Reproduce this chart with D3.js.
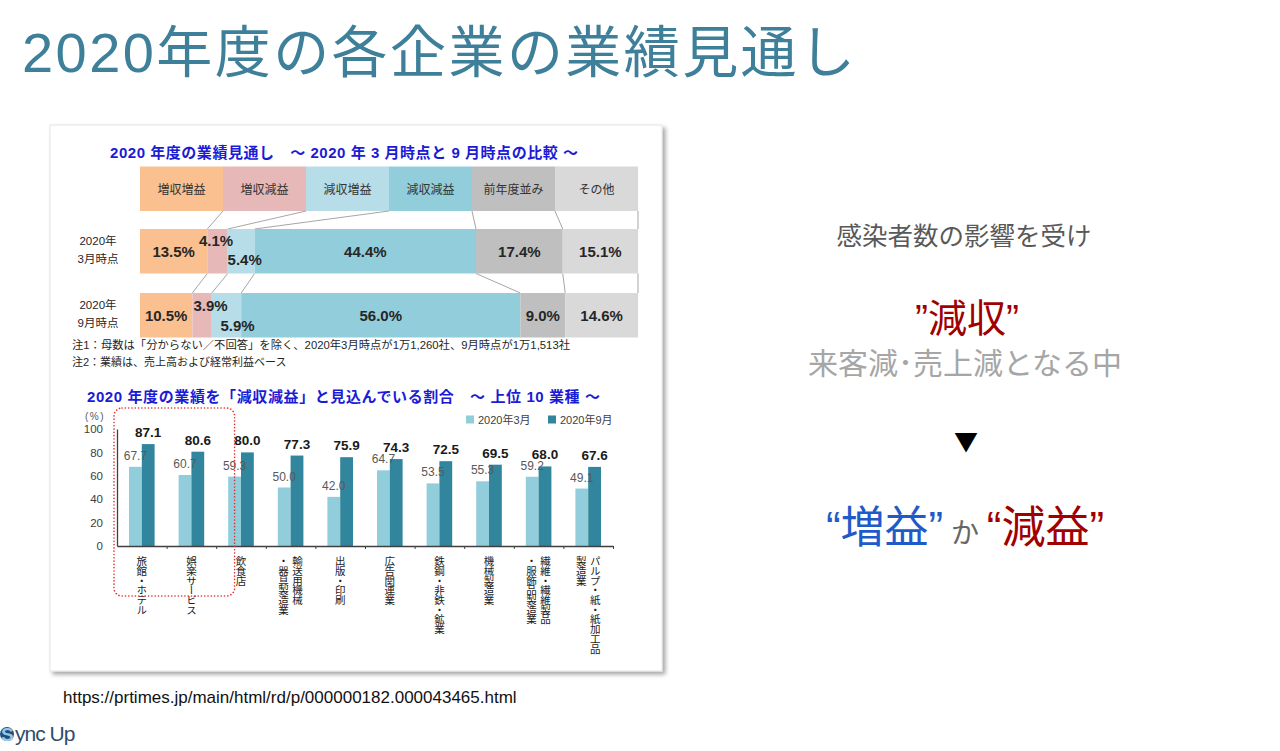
<!DOCTYPE html>
<html>
<head>
<meta charset="utf-8">
<script src="https://cdnjs.cloudflare.com/ajax/libs/d3/7.8.5/d3.min.js"></script>
<style>
  body { margin: 0; background: #fff; }
  svg { display: block; }
</style>
</head>
<body>
<script>
var W = 1280, H = 751;

// --- data: outlook (stacked) ---
var outlookCats = ["増収増益", "増収減益", "減収増益", "減収減益", "前年度並み", "その他"];
var outlookColors = ["#FAC090", "#E6B9B8", "#B7DEE8", "#92CDDC", "#BFBFBF", "#D9D9D9"];
var rowLabels = [["2020年", "3月時点"], ["2020年", "9月時点"]];
var outlookMar = [13.5, 4.1, 5.4, 44.4, 17.4, 15.1];
var outlookSep = [10.5, 3.9, 5.9, 56.0, 9.0, 14.6];

// --- data: top 10 industries ---
var industries = [
  ["旅館・ホテル"], ["娯楽サービス"], ["飲食店"], ["輸送用機械", "・器具製造業"],
  ["出版・印刷"], ["広告関連業"], ["鉄鋼・非鉄・鉱業"], ["機械製造業"],
  ["繊維・繊維製品", "・服飾品製造業"], ["パルプ・紙・紙加工品", "製造業"]
];
var marValues = [67.7, 60.7, 59.3, 50.0, 42.0, 64.7, 53.5, 55.3, 59.2, 49.1];
var sepValues = [87.1, 80.6, 80.0, 77.3, 75.9, 74.3, 72.5, 69.5, 68.0, 67.6];
var seriesNames = ["2020年3月", "2020年9月"];
var seriesColors = ["#92CDDC", "#31859C"];
var yTicks = [0, 20, 40, 60, 80, 100];

var jp = "'Noto Sans CJK JP', sans-serif";
var lat = "'Liberation Sans', 'Noto Sans CJK JP', sans-serif";

var svg = d3.select("body").append("svg")
  .attr("width", W).attr("height", H);

var defs = svg.append("defs");
var f = defs.append("filter").attr("id", "shadow")
  .attr("x", "-5%").attr("y", "-5%").attr("width", "110%").attr("height", "110%");
f.append("feDropShadow").attr("dx", 3).attr("dy", 3).attr("stdDeviation", 2)
  .attr("flood-color", "#000").attr("flood-opacity", 0.35);

// page title
svg.append("text")
  .attr("x", 22).attr("y", 72)
  .attr("textLength", 833).attr("lengthAdjust", "spacing")
  .style("font-family", lat).style("font-size", "56px")
  .attr("fill", "#3E7F99")
  .text("2020年度の各企業の業績見通し");

// card
svg.append("rect")
  .attr("x", 50).attr("y", 125).attr("width", 612).attr("height", 546)
  .attr("fill", "#fff").attr("stroke", "#e4e4e4")
  .attr("filter", "url(#shadow)");

// ---------- top chart ----------
svg.append("text")
  .attr("x", 110).attr("y", 158)
  .attr("textLength", 468).attr("lengthAdjust", "spacing")
  .style("font-family", lat).style("font-size", "15px").style("font-weight", "bold")
  .attr("fill", "#1B1BD6")
  .text("2020 年度の業績見通し　～ 2020 年 3 月時点と 9 月時点の比較 ～");

var hx = d3.scaleBand().domain(outlookCats).range([140, 638]);
var headTop = 166.5, headBot = 211;
var rowTop = [229, 293], rowH = 44.5;

svg.append("g").selectAll("rect").data(outlookCats).enter().append("rect")
  .attr("x", function(d) { return hx(d); })
  .attr("y", headTop)
  .attr("width", hx.bandwidth())
  .attr("height", headBot - headTop)
  .attr("fill", function(d, i) { return outlookColors[i]; });

svg.append("g").selectAll("text").data(outlookCats).enter().append("text")
  .attr("x", function(d) { return hx(d) + hx.bandwidth() / 2; })
  .attr("y", 194)
  .attr("text-anchor", "middle")
  .style("font-family", jp).style("font-size", "12px")
  .attr("fill", "#333")
  .text(function(d) { return d; });

var rows = [outlookMar, outlookSep];
var nudge = [
  [[0, 0], [-1.5, -11], [3.5, 8], [0, 0], [0, 0], [0, 0]],
  [[0, 0], [8.5, -10], [11, 9.5], [0, 0], [0, 0], [0, 0]]
];
var rowScales = rows.map(function(vals) {
  return d3.scaleLinear().domain([0, d3.sum(vals)]).range([140, 638]);
});
var cums = rows.map(function(vals) {
  var c = [0];
  vals.forEach(function(v) { c.push(c[c.length - 1] + v); });
  return c;
});

// connectors
var conn = svg.append("g").attr("stroke", "#A6A6A6").attr("stroke-width", 1).attr("fill", "none");
outlookCats.forEach(function(d, i) {
  var x0 = hx(d) + hx.bandwidth();
  var x1 = rowScales[0](cums[0][i + 1]);
  conn.append("line").attr("x1", x0).attr("y1", headBot).attr("x2", x1).attr("y2", rowTop[0]);
  var x2 = rowScales[1](cums[1][i + 1]);
  conn.append("line").attr("x1", x1).attr("y1", rowTop[0] + rowH).attr("x2", x2).attr("y2", rowTop[1]);
});

rows.forEach(function(vals, r) {
  var g = svg.append("g");
  var xs = rowScales[r];
  g.selectAll("rect").data(vals).enter().append("rect")
    .attr("x", function(d, i) { return xs(cums[r][i]); })
    .attr("y", rowTop[r])
    .attr("width", function(d) { return xs(d) - xs(0); })
    .attr("height", rowH)
    .attr("fill", function(d, i) { return outlookColors[i]; });
  g.selectAll("text.v").data(vals).enter().append("text")
    .attr("class", "v")
    .attr("x", function(d, i) { return (xs(cums[r][i]) + xs(cums[r][i + 1])) / 2 + nudge[r][i][0]; })
    .attr("y", function(d, i) { return rowTop[r] + rowH / 2 + 6 + nudge[r][i][1]; })
    .attr("text-anchor", "middle")
    .style("font-family", lat).style("font-size", "15px").style("font-weight", "bold")
    .attr("fill", "#262626")
    .text(function(d) { return d.toFixed(1) + "%"; });
  rowLabels[r].forEach(function(t, k) {
    svg.append("text")
      .attr("x", 98).attr("y", rowTop[r] + 16 + k * 18)
      .attr("text-anchor", "middle")
      .style("font-family", lat).style("font-size", "11.5px")
      .attr("fill", "#262626")
      .text(t);
  });
});

svg.append("text").attr("x", 72).attr("y", 349)
  .style("font-family", lat).style("font-size", "11px").attr("fill", "#262626")
  .attr("textLength", 498).attr("lengthAdjust", "spacingAndGlyphs")
  .text("注1：母数は「分からない／不回答」を除く、2020年3月時点が1万1,260社、9月時点が1万1,513社");
svg.append("text").attr("x", 72).attr("y", 366)
  .style("font-family", lat).style("font-size", "11px").attr("fill", "#262626")
  .text("注2：業績は、売上高および経常利益ベース");

// ---------- bottom chart ----------
svg.append("text")
  .attr("x", 87).attr("y", 402)
  .attr("textLength", 513).attr("lengthAdjust", "spacing")
  .style("font-family", lat).style("font-size", "15px").style("font-weight", "bold")
  .attr("fill", "#1B1BD6")
  .text("2020 年度の業績を「減収減益」と見込んでいる割合　～ 上位 10 業種 ～");

var x = d3.scaleBand().domain(d3.range(industries.length)).range([117, 613]);
var barW = 12.8;
var x1 = d3.scaleBand().domain([0, 1])
  .range([x.bandwidth() / 2 - barW, x.bandwidth() / 2 + barW]);
var y = d3.scaleLinear().domain([0, 100]).range([546, 429]);

// legend
var leg = svg.append("g");
seriesNames.forEach(function(s, i) {
  var lx = 466 + i * 82;
  leg.append("rect").attr("x", lx).attr("y", 415.5).attr("width", 8).attr("height", 8)
    .attr("fill", seriesColors[i]);
  leg.append("text").attr("x", lx + 12).attr("y", 423.5)
    .style("font-family", lat).style("font-size", "11px").attr("fill", "#404040")
    .text(s);
});

svg.append("text").attr("x", 85).attr("y", 420)
  .style("font-family", lat).style("font-size", "10px").style("letter-spacing", "1.5px")
  .attr("fill", "#595959").text("(%)");

var series = [marValues, sepValues];
series.forEach(function(vals, s) {
  var g = svg.append("g");
  g.selectAll("rect").data(vals).enter().append("rect")
    .attr("x", function(d, i) { return x(i) + x1(s); })
    .attr("y", function(d) { return y(d); })
    .attr("width", x1.bandwidth())
    .attr("height", function(d) { return y(0) - y(d); })
    .attr("fill", seriesColors[s]);
});
// value labels (light first, dark on top)
series.forEach(function(vals, s) {
  svg.append("g").selectAll("text").data(vals).enter().append("text")
    .attr("x", function(d, i) { return x(i) + x1(s) + x1.bandwidth() / 2; })
    .attr("y", function(d) { return y(d) - 7; })
    .attr("text-anchor", "middle")
    .style("font-family", lat)
    .style("font-size", s === 0 ? "12px" : "13.5px")
    .style("font-weight", s === 0 ? "normal" : "bold")
    .attr("fill", s === 0 ? "#595959" : "#1a1a1a")
    .text(function(d) { return d.toFixed(1); });
});

var yAxis = svg.append("g").attr("transform", "translate(117,0)")
  .call(d3.axisLeft(y).tickValues(yTicks).tickSize(0).tickPadding(14));
yAxis.select(".domain").attr("stroke", "#404040").attr("stroke-width", 1.3);
yAxis.selectAll("text").style("font-family", lat).style("font-size", "11.5px").attr("fill", "#404040");

var xi = d3.scaleLinear().domain([0, industries.length]).range([117, 613]);
var xAxis = svg.append("g").attr("transform", "translate(0," + y(0) + ")")
  .call(d3.axisBottom(xi).tickValues(d3.range(1, industries.length + 1))
    .tickSize(3).tickSizeOuter(0).tickFormat(""));
xAxis.select(".domain").attr("stroke", "#404040").attr("stroke-width", 1.3);
xAxis.selectAll(".tick line").attr("stroke", "#404040");

// vertical category labels
industries.forEach(function(lines, i) {
  var cx = x(i) + x.bandwidth() / 2;
  lines.forEach(function(t, k) {
    var off = lines.length === 1 ? 0 : (k === 0 ? 7 : -7);
    svg.append("text")
      .attr("x", cx + off).attr("y", 556)
      .style("writing-mode", "vertical-rl")
      .style("font-family", jp).style("font-size", "10.5px")
      .style("letter-spacing", "-0.8px")
      .attr("fill", "#1a1a1a")
      .text(t);
  });
});

// dotted highlight
svg.append("rect")
  .attr("x", x(0) - 3)
  .attr("y", y(100) - 21)
  .attr("width", x(2) + x1(0) + barW / 2 - x(0) + 3)
  .attr("height", 596 - (y(100) - 21))
  .attr("rx", 8)
  .attr("fill", "none").attr("stroke", "#E03030").attr("stroke-width", 1.6)
  .attr("stroke-dasharray", "0.1 3.2").attr("stroke-linecap", "round");

// ---------- right side text ----------
svg.append("text").attr("x", 964).attr("y", 245).attr("text-anchor", "middle")
  .style("font-family", jp).style("font-size", "25.5px").attr("fill", "#595959")
  .text("感染者数の影響を受け");
svg.append("text").attr("x", 967).attr("y", 332).attr("text-anchor", "middle")
  .style("font-family", lat).style("font-size", "39px").attr("fill", "#A00000")
  .text("\u201D減収\u201D");
svg.append("text").attr("x", 965).attr("y", 374).attr("text-anchor", "middle")
  .style("font-family", jp).style("font-size", "30px").attr("fill", "#A6A6A6")
  .text("来客減･売上減となる中");
svg.append("text").attr("x", 966).attr("y", 451).attr("text-anchor", "middle")
  .style("font-family", jp).style("font-size", "24px").attr("fill", "#000")
  .text("▼");

var last = svg.append("text").attr("x", 965).attr("y", 543).attr("text-anchor", "middle")
  .style("font-family", lat).style("font-size", "44px");
last.append("tspan").attr("fill", "#1F5BC8").text("\u201C増益\u201D");
last.append("tspan").attr("fill", "#666").style("font-size", "28px").text(" か ");
last.append("tspan").attr("fill", "#A00000").text("\u201C減益\u201D");

// source + logo
svg.append("text").attr("x", 63).attr("y", 703)
  .style("font-family", "'Liberation Sans', Arial, sans-serif").style("font-size", "17px")
  .attr("fill", "#111")
  .text("https://prtimes.jp/main/html/rd/p/000000182.000043465.html");

svg.append("circle").attr("cx", 7).attr("cy", 734).attr("r", 7).attr("fill", "#1F4E79");
svg.append("text").attr("x", 1).attr("y", 741)
  .style("font-family", lat).style("font-size", "19px").style("font-weight", "bold")
  .attr("fill", "#9DC3E6").text("S");
svg.append("text").attr("x", 15).attr("y", 741)
  .style("font-family", lat).style("font-size", "21px").style("letter-spacing", "-1px")
  .attr("fill", "#2E4D6B").text("ync Up");
</script>
</body>
</html>
